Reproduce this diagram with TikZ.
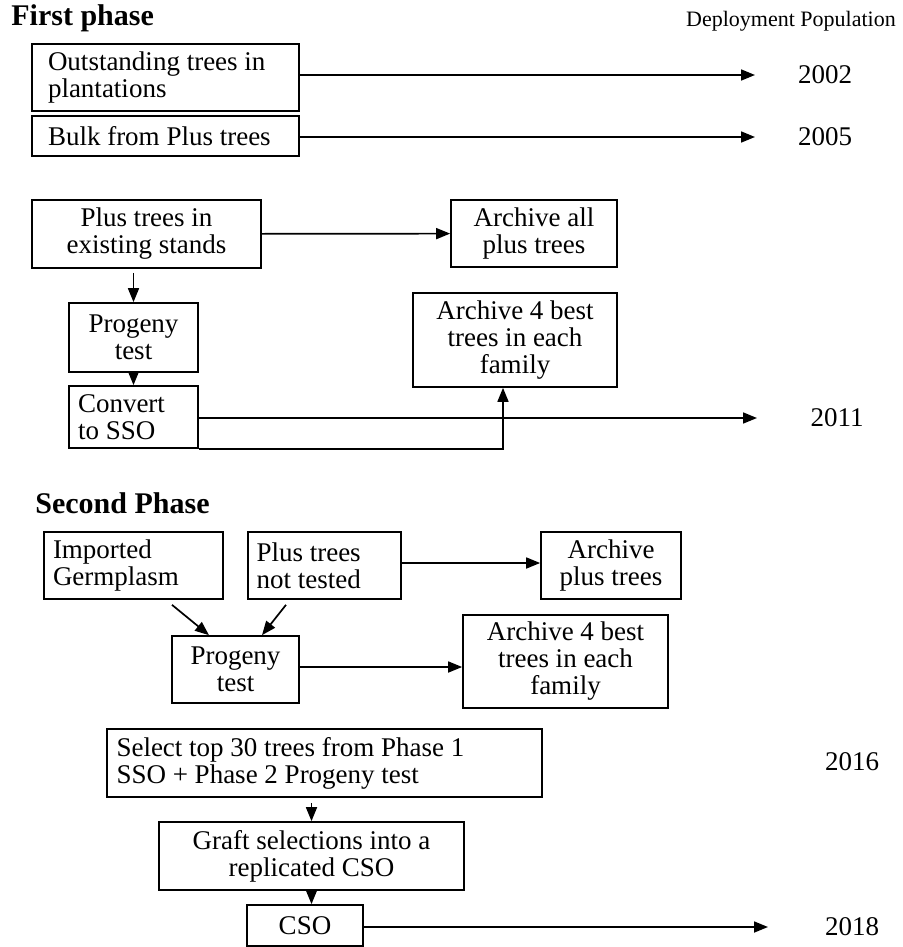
\documentclass[tikz,border=0pt]{standalone}
\usepackage{fontspec}
\setmainfont{Liberation Serif}
\usetikzlibrary{arrows.meta,calc}
\tikzset{
  nd_box/.style={rectangle,draw=black,line width=0.85pt,inner sep=0pt,align=center,font=\fontsize{13.5}{13.5}\selectfont},
  nd_left/.style={nd_box,align=flush left},
  nd_year/.style={inner sep=0pt,font=\fontsize{13.5}{13.5}\selectfont},
  nd_head/.style={inner sep=0pt,anchor=west,font=\fontsize{15}{15}\selectfont\bfseries},
  arr/.style={-{Triangle[length=7pt,width=5.5pt]},line width=0.85pt},
}
\begin{document}
\begin{tikzpicture}[x=0.5pt,y=-0.5pt]

\useasboundingbox (0,0) rectangle (902,947);

% headings
\node[nd_head] (H1) at (11,18) {First phase};
\node[inner sep=0pt,font=\fontsize{11}{11}\selectfont] (DP) at (791,21) {Deployment Population};

% FIRST PHASE
\node[nd_left,minimum width=133.5pt,minimum height=33.5pt,text width=117.5pt] at (165.5,77.5)(A1){Outstanding trees in\\plantations};
\node[nd_left,minimum width=133.5pt,minimum height=20pt,text width=117.5pt]   at (165.5,136) (A2){Bulk from Plus trees};
\node[nd_year] at (825,75)  (Y02){2002};
\node[nd_year] at (825,137) (Y05){2005};
\coordinate (T02) at (755,75);
\coordinate (T05) at (755,137);

\node[nd_box,minimum width=114.5pt,minimum height=34pt] at (146.5,234)(B1){Plus trees in\\existing stands};
\node[nd_box,minimum width=83pt,minimum height=33.5pt]  at (534,233.5)(AA1){Archive all\\plus trees};
\node[nd_box,minimum width=64.5pt,minimum height=34.5pt] at (133.5,337.5)(P1){Progeny\\test};
\node[nd_left,minimum width=64.5pt,minimum height=31pt,text width=55.5pt] at (133.5,417)(C1){Convert\\to SSO};
\node[nd_box,minimum width=102pt,minimum height=47pt] at (515,340)(AB1){Archive 4 best\\trees in each\\family};
\node[nd_year] at (837,418) (Y11){2011};
\coordinate (T11) at (757,418);

% SECOND PHASE
\node[nd_head] (H2) at (35,503) {Second Phase};
\node[nd_left,minimum width=89.5pt,minimum height=33.5pt,text width=80.5pt] at (133.5,565.5)(G2){Imported\\Germplasm};
\node[nd_left,minimum width=76.5pt,minimum height=33.5pt,text width=68pt]   at (324.5,565.5)(N2){Plus trees\\not tested};
\node[nd_box,minimum width=70pt,minimum height=33.5pt]   at (611,565.5)(AP2){Archive\\plus trees};
\node[nd_box,minimum width=63.5pt,minimum height=33.5pt] at (235.5,669.5)(P2){Progeny\\test};
\node[nd_box,minimum width=102.5pt,minimum height=46.5pt] at (565.5,661.5)(AB2){Archive 4 best\\trees in each\\family};

\node[nd_left,minimum width=217.5pt,minimum height=34pt,text width=208pt] at (324.5,763)(S3){Select top 30 trees from Phase 1\\SSO + Phase 2 Progeny test};
\node[nd_box,minimum width=152.5pt,minimum height=34pt] at (311.5,856)(G3){Graft selections into a\\replicated CSO};
\node[nd_box,minimum width=58pt,minimum height=20.5pt]  at (305,925.5)(CSO){CSO};
\node[nd_year] at (852,762) (Y16){2016};
\node[nd_year] at (852,927) (Y18){2018};
\coordinate (T18) at (768,927);

% connectors
\draw[arr](A1.east |- T02)--(T02);
\draw[arr](A2.east |- T05)--(T05);
\draw[arr](B1)--(AA1);
\draw[arr,shorten <=2pt](P1.north |- B1.south)--(P1.north);
\draw[arr](P1)--(C1);
\draw[arr](C1.east |- T11)--(T11);
\draw[arr](C1.south east)-|($(AB1.south)+(-12,0)$);

\draw[arr]($(G2.south)+(38.5,5)$)--($(P2.north)+(-26.5,0)$);
\draw[arr]($(N2.south)+(-38.5,5)$)--($(P2.north)+(26.5,0)$);
\draw[arr](N2.east |- 0,563)--(AP2.west |- 0,563);
\draw[arr](P2.east |- 0,667)--(AB2.west |- 0,667);
\draw[arr,shorten <=2.5pt](S3.south -| G3.north)--(G3.north);
\draw[arr](G3.south)--(G3.south |- CSO.north);
\draw[arr](CSO.east |- T18)--(T18);

\end{tikzpicture}
\end{document}
